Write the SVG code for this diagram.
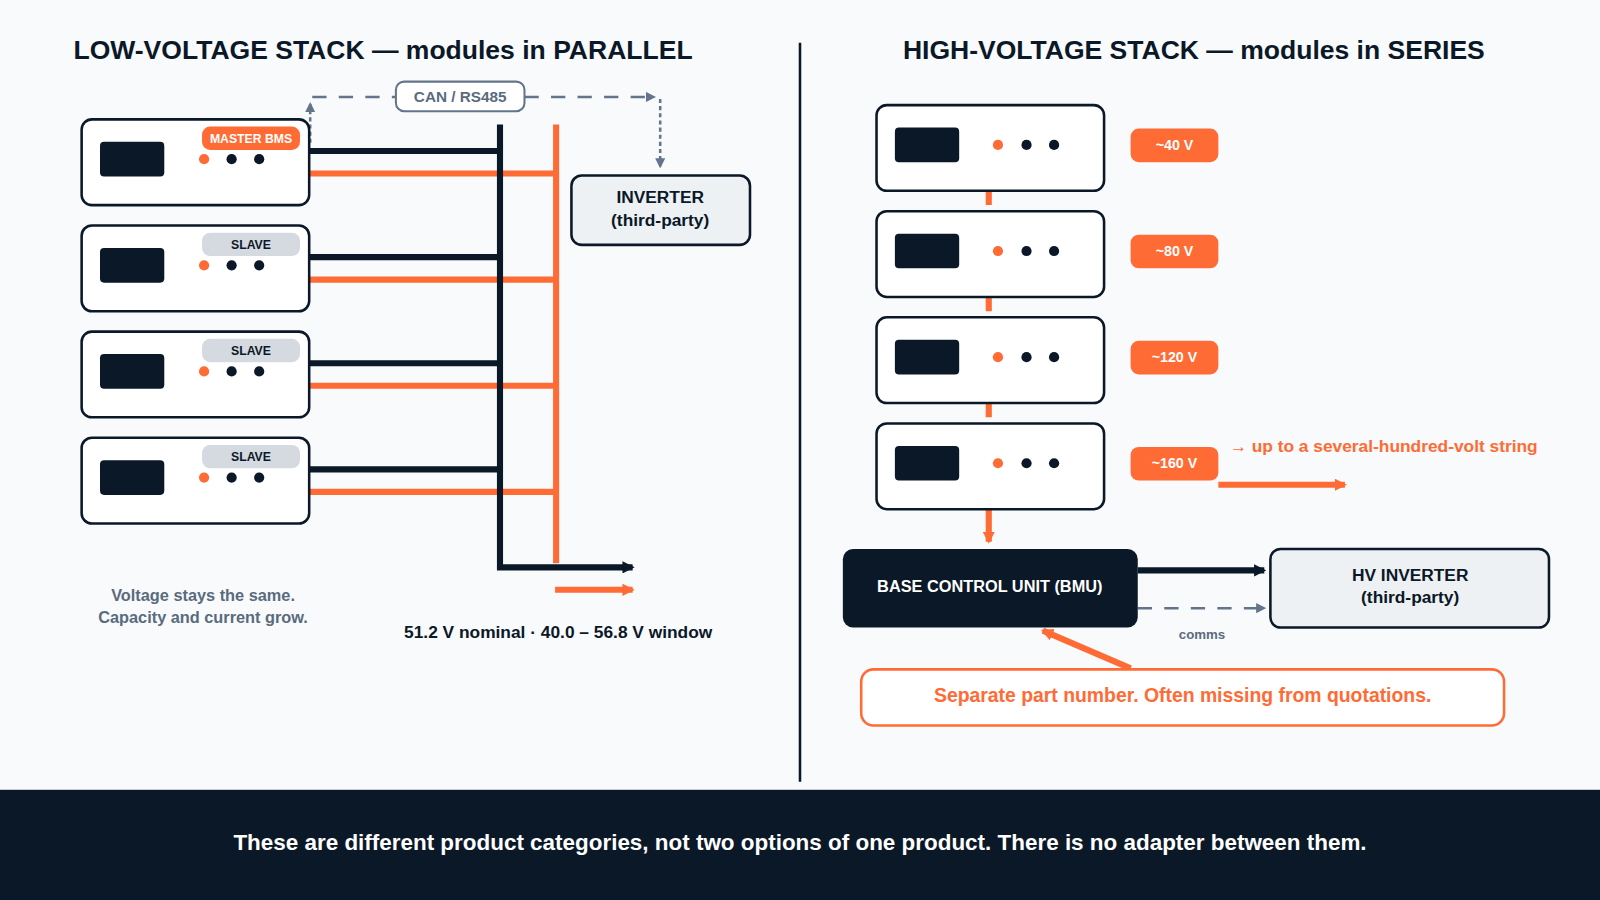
<svg xmlns="http://www.w3.org/2000/svg" width="1600" height="900" viewBox="0 0 1600 900">
<defs>
<style>
text{font-family:"Liberation Sans",Arial,sans-serif;font-weight:bold}
.mod{fill:#fff;stroke:#0b1828;stroke-width:2.5}
.scr{fill:#0b1828}
.dk{fill:#0b1828}.or{fill:#ff6b35}
.bk{stroke:#0b1828;stroke-width:6;fill:none}
.ol{stroke:#ff6b35;stroke-width:6;fill:none}
.dash{stroke:#64748b;stroke-width:2.5;fill:none;stroke-dasharray:14 12}
.dot{stroke:#64748b;stroke-width:2.5;fill:none;stroke-dasharray:4 3}
.inv{fill:#eef1f4;stroke:#0b1828;stroke-width:2.5}
</style>
<marker id="ag" markerWidth="10" markerHeight="10" refX="8" refY="5" orient="auto" markerUnits="userSpaceOnUse" viewBox="0 0 10 10"><path d="M0,0L10,5L0,10z" fill="#64748b"/></marker>
<marker id="ab" markerWidth="12" markerHeight="12" refX="10" refY="6" orient="auto" markerUnits="userSpaceOnUse" viewBox="0 0 12 12"><path d="M0,0L12,6L0,12z" fill="#0b1828"/></marker>
<marker id="ao" markerWidth="12" markerHeight="12" refX="10" refY="6" orient="auto" markerUnits="userSpaceOnUse" viewBox="0 0 12 12"><path d="M0,0L12,6L0,12z" fill="#ff6b35"/></marker>
<g id="lvmod">
<rect class="mod" x="80" y="117" width="223" height="84" rx="10"/>
<rect class="scr" x="98" y="139" width="63" height="34" rx="4"/>
<circle class="or" cx="200" cy="156" r="5"/><circle class="dk" cx="227" cy="156" r="5"/><circle class="dk" cx="254" cy="156" r="5"/>
</g>
<g id="hvmod">
<rect class="mod" x="859" y="103" width="223" height="84" rx="10"/>
<rect class="scr" x="877" y="125" width="63" height="34" rx="4"/>
<circle class="or" cx="978" cy="142" r="5"/><circle class="dk" cx="1006" cy="142" r="5"/><circle class="dk" cx="1033" cy="142" r="5"/>
</g>
</defs>
<rect width="1600" height="900" fill="#f8fafc"/>
<g transform="scale(1.0204)">
<line x1="784" y1="42" x2="784" y2="766" stroke="#0b1828" stroke-width="2.5"/>
<text x="72" y="58" font-size="26" fill="#0b1828">LOW-VOLTAGE STACK — modules in PARALLEL</text>
<text x="1170" y="58" font-size="26" fill="#0b1828" text-anchor="middle">HIGH-VOLTAGE STACK — modules in SERIES</text>

<g id="connectors">
<g id="lv-wires">
<path class="bk" d="M303,148H490M303,252H490M303,356H490M303,460H490"/>
<path class="ol" d="M303,170H545M303,274H545M303,378H545M303,482H545"/>
<path class="ol" d="M545,122V552"/>
<path class="bk" d="M490,122V556H620" marker-end="url(#ab)"/>
<path class="ol" d="M544,578H620" stroke-width="4" marker-end="url(#ao)"/>
</g>
<path class="dot" d="M304,140V102" marker-end="url(#ag)"/>
<path class="dash" d="M306,95H388"/>
<path class="dash" d="M514,95H641" marker-end="url(#ag)"/>
<path class="dot" d="M647,97V163" marker-end="url(#ag)"/>
<path class="ol" stroke-width="3" d="M969,187V201M969,291V305M969,395V409M969,499V531" marker-end="url(#ao)"/>
<path class="ol" stroke-width="3" d="M1194,475H1318" marker-end="url(#ao)"/>
<path class="bk" stroke-width="4" d="M1115,559H1239" marker-end="url(#ab)"/>
<path class="dash" stroke-width="3" stroke-dasharray="10 7" d="M1115,596H1239" marker-end="url(#ag)"/>
<path class="ol" stroke-width="3" d="M1108,655L1022,618" marker-end="url(#ao)"/>
</g>

<g id="m1"><use href="#lvmod"/><rect x="198" y="124" width="96" height="23" rx="8" class="or"/><text x="246" y="140" font-size="12" fill="#fff" text-anchor="middle">MASTER BMS</text></g>
<g id="m2"><use href="#lvmod" y="104"/><rect x="198" y="228" width="96" height="23" rx="8" fill="#d5d9e0"/><text x="246" y="244" font-size="12" fill="#0b1828" text-anchor="middle">SLAVE</text></g>
<g id="m3"><use href="#lvmod" y="208"/><rect x="198" y="332" width="96" height="23" rx="8" fill="#d5d9e0"/><text x="246" y="348" font-size="12" fill="#0b1828" text-anchor="middle">SLAVE</text></g>
<g id="m4"><use href="#lvmod" y="312"/><rect x="198" y="436" width="96" height="23" rx="8" fill="#d5d9e0"/><text x="246" y="452" font-size="12" fill="#0b1828" text-anchor="middle">SLAVE</text></g>

<g id="can"><rect x="388" y="80" width="126" height="29" rx="8" fill="#fff" stroke="#64748b" stroke-width="2"/><text x="451" y="100" font-size="15" fill="#5a6b7e" text-anchor="middle">CAN / RS485</text></g>
<g id="inverter"><rect class="inv" x="560" y="172" width="175" height="68" rx="10"/><text x="647" y="199" font-size="17" fill="#0b1828" text-anchor="middle">INVERTER</text><text x="647" y="221" font-size="17" fill="#0b1828" text-anchor="middle">(third-party)</text></g>
<text x="199" y="589" font-size="16" fill="#5a6b7e" text-anchor="middle">Voltage stays the same.</text>
<text x="199" y="611" font-size="16" fill="#5a6b7e" text-anchor="middle">Capacity and current grow.</text>
<text x="547" y="625" font-size="17" fill="#0b1828" text-anchor="middle">51.2 V nominal · 40.0 – 56.8 V window</text>

<g id="h1"><use href="#hvmod"/><rect x="1108" y="126" width="86" height="33" rx="8" class="or"/><text x="1151" y="147" font-size="14" fill="#fff" text-anchor="middle">~40 V</text></g>
<g id="h2"><use href="#hvmod" y="104"/><rect x="1108" y="230" width="86" height="33" rx="8" class="or"/><text x="1151" y="251" font-size="14" fill="#fff" text-anchor="middle">~80 V</text></g>
<g id="h3"><use href="#hvmod" y="208"/><rect x="1108" y="334" width="86" height="33" rx="8" class="or"/><text x="1151" y="355" font-size="14" fill="#fff" text-anchor="middle">~120 V</text></g>
<g id="h4"><use href="#hvmod" y="312"/><rect x="1108" y="438" width="86" height="33" rx="8" class="or"/><text x="1151" y="459" font-size="14" fill="#fff" text-anchor="middle">~160 V</text></g>
<text x="1205" y="443" font-size="17" fill="#ff6b35">→ up to a several-hundred-volt string</text>

<g id="bmu"><rect x="826" y="538" width="289" height="77" rx="10" fill="#0b1828"/><text x="970" y="580" font-size="16" fill="#fff" text-anchor="middle">BASE CONTROL UNIT (BMU)</text></g>
<g id="hvinv"><rect class="inv" x="1245" y="538" width="273" height="77" rx="10"/><text x="1382" y="569" font-size="17" fill="#0b1828" text-anchor="middle">HV INVERTER</text><text x="1382" y="591" font-size="17" fill="#0b1828" text-anchor="middle">(third-party)</text></g>
<text x="1178" y="626" font-size="13" fill="#5a6b7e" text-anchor="middle">comms</text>
<g id="callout"><rect x="844" y="656" width="630" height="55" rx="12" fill="#fff" stroke="#ff6b35" stroke-width="2.5"/><text x="1159" y="688" font-size="19" fill="#ff6b35" text-anchor="middle">Separate part number. Often missing from quotations.</text></g>

<rect x="0" y="774" width="1568" height="110" fill="#0b1828"/>
<text x="784" y="833" font-size="22" fill="#fff" text-anchor="middle">These are different product categories, not two options of one product. There is no adapter between them.</text>
</g>
</svg>
